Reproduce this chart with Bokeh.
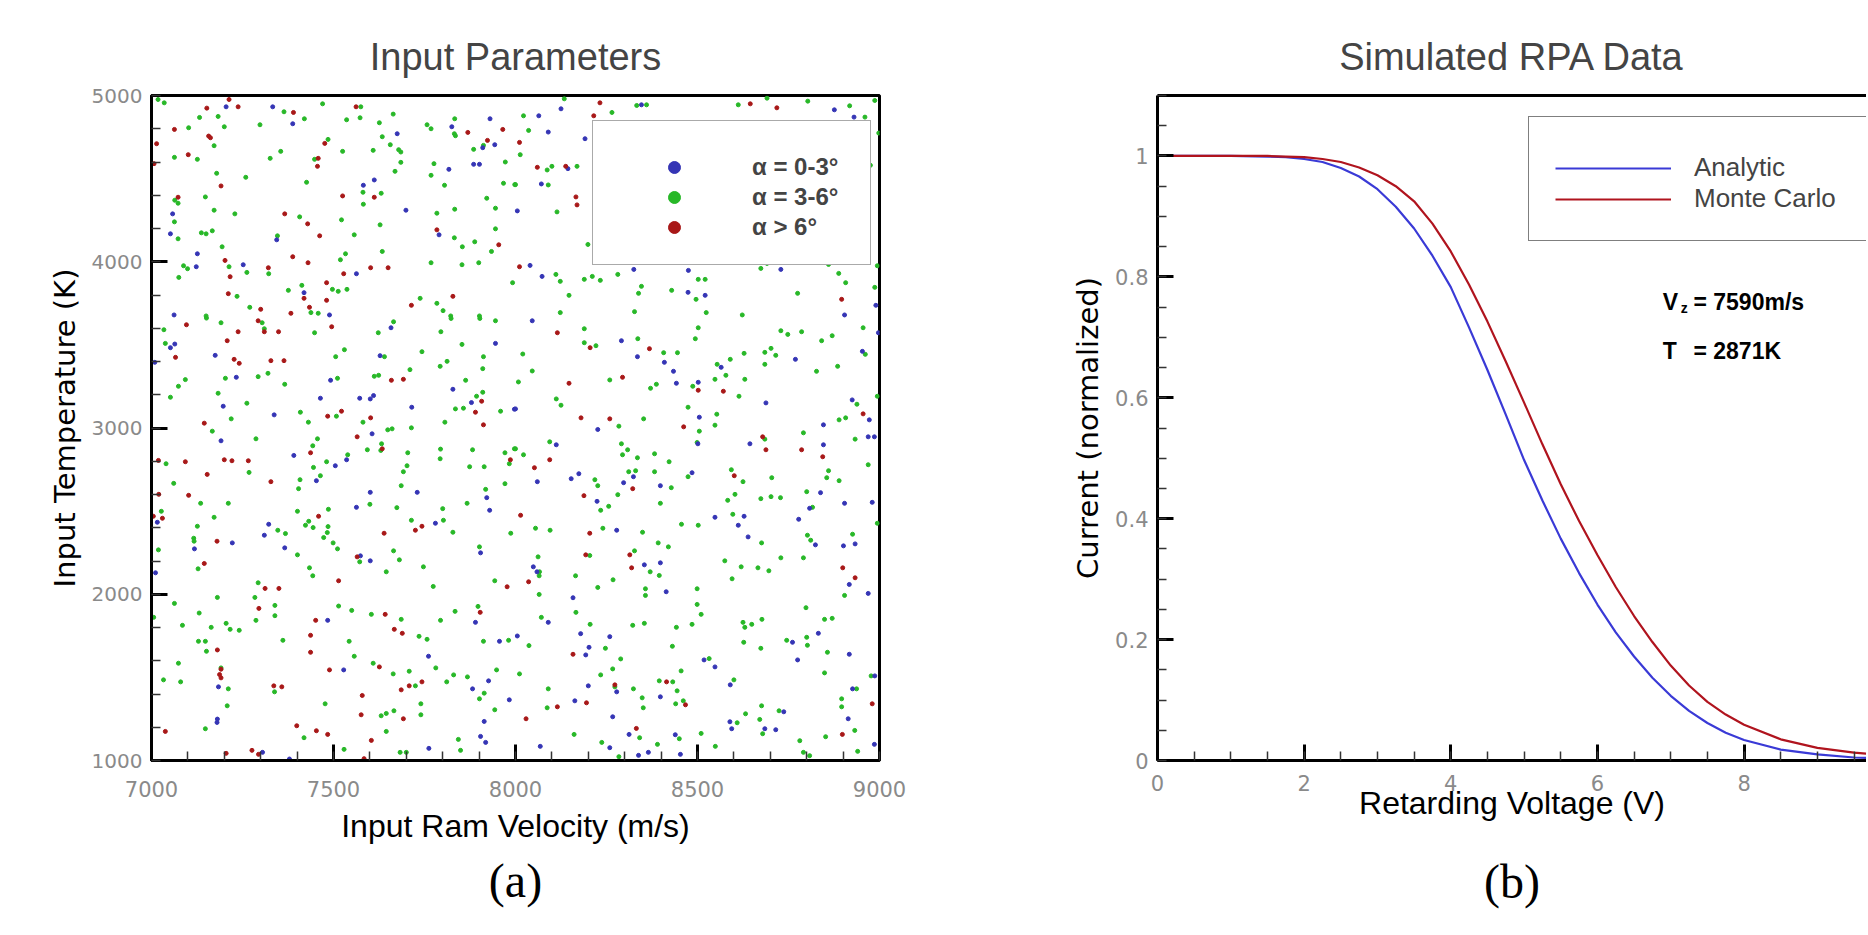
from bokeh.plotting import figure
from bokeh.models import (Range1d, FixedTicker, Legend, LegendItem, Label,
                          LinearAxis, CustomJSTickFormatter)
from bokeh.layouts import row
from bokeh.core.properties import value
from bokeh.embed import file_html
from bokeh.resources import INLINE

# ---------------- (a) Input parameters: scatter data ----------------
green_vel = [
    7018, 7035, 7132, 7183, 7200, 7102, 7298, 7364, 7420, 7470,
    7575, 7573, 7536, 7626, 7664, 7757, 7768, 7833, 7832, 7835,
    7634, 7656, 7679, 7685, 7685, 7669, 7609, 7525, 7485, 7448,
    7355, 7326, 7172, 7126, 7063, 7179, 7259, 7426, 7581, 7582,
    7631, 7768, 7776, 7805, 7885, 7912, 7972, 7967, 7998, 7921,
    7945, 7833, 7784, 7522, 7407, 7557, 7628, 7832, 7854, 7888,
    7945, 7934, 7899, 7853, 7768, 7634, 7533, 7519, 7537, 7513,
    7497, 7413, 7376, 7322, 7262, 7235, 7213, 7194, 7229, 7172,
    7167, 7150, 7137, 7148, 7064, 7073, 7063, 7073, 7088, 7099,
    7075, 7270, 7346, 7438, 7458, 7738, 7784, 7801, 7822, 7901,
    7992, 7150,
    8134, 8022, 8036, 8013, 8087, 8100, 8169, 8090, 8114, 8199,
    8265, 8333, 8360, 8612, 8691, 8803, 8918, 8960, 8987, 8998,
    8975, 8111, 8123, 8189, 8211, 8233, 8281, 8147, 8346, 8338,
    8429, 8496, 8502, 8521, 8524, 8674, 8691, 8775, 8860, 8888,
    8907, 8987, 8994, 8123, 8327, 8623, 8000,
    7151, 7191, 7304, 7310, 7034, 7038, 7093, 7074, 7052, 7203,
    7183, 7262, 7219, 7167, 7293, 7320, 7366, 7287, 7448, 7506,
    7530, 7511, 7409, 7431, 7508, 7581, 7612, 7624, 7640, 7623,
    7665, 7743, 7710, 7793, 7812, 7795, 7823, 7853, 7863, 7902,
    7945, 7912, 7910, 7910, 7893, 7835, 7857, 7806, 7959, 7714,
    7649, 7661, 7632, 7630, 7593, 7539, 7456, 7443, 7445, 7481,
    7464, 7408, 7404, 7401, 7432, 7423, 7444, 7485, 7486, 7483,
    7473, 7600, 7674, 7686, 7692, 7702, 7704, 7793, 7794, 7882,
    7914, 7874, 7971, 7997, 7983, 7971, 7918, 7867, 7802, 7800,
    7828, 7987, 7714, 7040, 7061, 7027, 7135, 7211, 7172, 7126,
    7268, 7347, 7368, 7116,
    8189, 8189, 8221, 8020, 8046, 8008, 8112, 8125, 8259, 8336,
    8407, 8445, 8387, 8371, 8502, 8494, 8284, 8352, 8094, 8022,
    8291, 8308, 8294, 8335, 8382, 8422, 8382, 8311, 8330, 8218,
    8226, 8281, 8234, 8256, 8398, 8428, 8474, 8487, 8474, 8505,
    8499, 8548, 8554, 8578, 8590, 8628, 8630, 8614, 8553, 8548,
    8685, 8702, 8715, 8685, 8729, 8748, 8786, 8841, 8870, 8885,
    8827, 8955, 8961, 8994, 8938, 8907, 8889, 8933, 8791, 8685,
    8860, 8855, 8889, 8969, 8800, 8816, 8704, 8702, 8728, 8674,
    8625, 8593, 8603, 8583, 8597, 8502, 8456, 8349, 8240, 8095,
    8055, 8802, 8926, 8994, 8000,
    7117, 7019, 7128, 7499, 7511, 7401, 7434, 7443, 7572, 7665,
    7681, 7645, 7747, 7774, 7901, 7943, 7293, 7284, 7287, 7339,
    7339, 7181, 7063, 7131, 7085, 7164, 7205, 7216, 7241, 7129,
    7148, 7151, 7361, 7514, 7550, 7604, 7686, 7794, 7834, 7897,
    7912, 7981, 7543, 7557, 7609, 7664, 7708, 7725, 7781, 7735,
    7757, 7811, 7830, 7868, 7948, 7914, 7901, 7943, 7843, 7849,
    7740, 7740, 7666, 7645, 7631, 7645, 7683, 7700, 7477, 7529,
    7419, 7338, 7211, 7208, 7148, 7074, 7033, 7080, 7006, 7191,
    8062, 8066, 8065, 8065, 8204, 8327, 8392, 8420, 8165, 8268,
    8226, 8357, 8357, 8370, 8395, 8499, 8499, 8510, 8485, 8442,
    8354, 8322, 8205, 8166, 8071, 8037, 8247, 8289, 8267, 8234,
    8431, 8455, 8432, 8444, 8395, 8348, 8351, 8324, 8273, 8090,
    8087, 8011, 8161, 8237, 8284, 8341, 8390, 8450, 8461, 8440,
    8510, 8549, 8575, 8595, 8620, 8666, 8696, 8676, 8729, 8791,
    8811, 8798, 8800, 8802, 8849, 8870, 8904, 8677, 8625, 8630,
    8649, 8627, 8674, 8745, 8857, 8849, 8977, 8937, 8896, 8896,
    8676, 8671, 8632, 8609, 8724, 8600, 8781, 8791, 8852, 8932,
    8940, 8532, 8679, 8808,
]
green_temp = [
    4976, 4956, 4868, 4874, 4812, 4806, 4824, 4902, 4860, 4950,
    4932, 4866, 4854, 4836, 4888, 4824, 4800, 4860, 4770, 4758,
    4752, 4704, 4674, 4660, 4598, 4544, 4670, 4664, 4736, 4616,
    4664, 4622, 4698, 4616, 4628, 4532, 4508, 4478, 4418, 4346,
    4412, 4520, 4590, 4460, 4676, 4700, 4600, 4472, 4464, 4382,
    4322, 4316, 4292, 4252, 4270, 4162, 4222, 4144, 4090, 4120,
    4198, 4062, 3994, 3982, 3994, 4062, 4048, 4012, 3834, 3822,
    3834, 3858, 3828, 3928, 3936, 3792, 3970, 4090, 4288, 4310,
    4186, 4168, 4174, 4390, 4370, 4352, 4240, 4138, 3976, 3958,
    3906, 3726, 4156, 3694, 3690, 3780, 3750, 3706, 3674, 3674,
    3874, 3674,
    4980, 4878, 4790, 4644, 4552, 4574, 4574, 4462, 4300, 4104,
    4898, 4940, 4944, 4944, 4984, 4966, 4938, 4870, 4970, 4774,
    4580, 3924, 3882, 3894, 3912, 3888, 3924, 3798, 3852, 3810,
    3828, 3774, 3894, 3894, 3694, 3960, 3990, 3810, 3984, 3930,
    3874, 3846, 3976, 3694, 3700, 3680, 4464,
    3661, 3633, 3633, 3597, 3591, 3509, 3291, 3251, 3185, 3299,
    3209, 3149, 3055, 2981, 3309, 3329, 3263, 2935, 3573, 3429,
    3471, 3299, 3095, 3035, 3071, 3035, 3311, 3317, 3429, 3573,
    3639, 3459, 3351, 3371, 3401, 3579, 3659, 3503, 3287, 3659,
    3645, 3429, 3357, 3215, 3191, 3115, 3119, 3035, 3101, 3001,
    2989, 2995, 2905, 2865, 2869, 2839, 2935, 2893, 2763, 2797,
    2713, 2689, 2635, 2499, 2439, 2415, 2401, 2407, 2511, 2371,
    2341, 2541, 2521, 2653, 2737, 2773, 2851, 2815, 2873, 2869,
    2767, 2767, 2851, 2875, 2785, 2665, 2631, 2547, 2445, 2515,
    2373, 2367, 2445, 2785, 2667, 2499, 2547, 2547, 2463, 2409,
    2733, 2385, 2365, 2337,
    3597, 3513, 3495, 3445, 3343, 3277, 3175, 3137, 3289, 3537,
    3453, 3453, 3263, 3239, 3603, 3537, 3011, 3055, 2917, 2839,
    2905, 2869, 2839, 2821, 2845, 2797, 2737, 2737, 2743, 2689,
    2653, 2599, 2505, 2529, 2547, 2641, 2707, 3251, 3125, 2981,
    2913, 3293, 3383, 3317, 3413, 3449, 3293, 3191, 3083, 3017,
    3455, 3479, 3437, 3383, 3585, 3563, 3579, 3525, 3555, 3371,
    3341, 3603, 3443, 3191, 3143, 3061, 3049, 2933, 2971, 2933,
    2743, 2701, 2683, 2779, 2617, 2523, 2701, 2587, 2581, 2575,
    2677, 2749, 2601, 2565, 2481, 2415, 2421, 2373, 2397, 2385,
    2397, 2355, 2361, 2427, 2875,
    2319, 2267, 2153, 2309, 2273, 2237, 2159, 2111, 2195, 2261,
    2207, 2135, 2165, 2047, 2285, 2081, 2069, 1981, 1843, 1933,
    1871, 1981, 1945, 1887, 1813, 1801, 1825, 1789, 1783, 1717,
    1717, 1657, 1723, 1929, 1903, 1879, 1849, 1843, 1897, 1927,
    1717, 1723, 1717, 1627, 1585, 1521, 1537, 1449, 1557, 1747,
    1729, 1473, 1515, 1503, 1545, 1405, 1371, 1305, 1127, 1061,
    1341, 1275, 1299, 1283, 1269, 1175, 1049, 1049, 1341, 1067,
    1137, 1413, 1431, 1329, 1191, 1585, 1485, 1473, 1861, 1557,
    2225, 2135, 2111, 1999, 2233, 2261, 2309, 2285, 2111, 2087,
    2041, 2033, 1993, 2135, 2113, 2033, 1939, 1879, 1819, 1801,
    1825, 1813, 1819, 1891, 1861, 1691, 1675, 1611, 1551, 1515,
    1687, 1539, 1473, 1419, 1479, 1377, 1317, 1431, 1443, 1431,
    1317, 1521, 1157, 1109, 1023, 1137, 1097, 1131, 1359, 1341,
    1163, 1085, 2201, 2093, 2165, 2159, 2141, 2309, 2219, 2219,
    2325, 1919, 1741, 1693, 1849, 1855, 1993, 1849, 1831, 1801,
    1819, 1711, 1675, 1723, 1651, 1527, 1509, 1431, 1371, 1323,
    1329, 1247, 1281, 1227, 1299, 1485, 1119, 1049, 1143, 1181,
    1055, 1613, 1161, 1029,
]

blue_vel = [
    7205, 7333, 7388, 7675, 7825, 7930, 7943, 7910, 7885, 7901,
    7817, 7612, 7582, 7699, 7790, 7344, 7058, 7052, 7126, 7123,
    7252, 7563, 7419, 7062, 7489,
    8125, 8064, 8090, 8191, 8144, 8071, 8005, 8346, 8876, 8930,
    8040, 8073, 8325, 8475, 8474, 8521, 8729, 8990, 8904,
    7064, 7052, 7009, 7175, 7233, 7197, 7337, 7191, 7492, 7464,
    7572, 7601, 7610, 7658, 7628, 7606, 7715, 7828, 7879, 7945,
    7997, 7391, 7505, 7536, 7453, 7601, 7730, 7563, 7921, 7929,
    7780, 7322, 7310, 7016,
    8046, 8291, 8335, 8409, 8434, 8442, 8502, 8505, 8565, 8501,
    8688, 8769, 8953, 8925, 8972, 8846, 8969, 8986, 8846, 8644,
    8485, 8398, 8324, 8297, 8174, 8153, 8060, 8226, 8112, 8224,
    8278, 8548, 8612, 8628, 8639, 8778, 8808, 8838, 8904, 8980,
    8997, 8000,
    7118, 7222, 7366, 7574, 7601, 7011, 7484, 7528, 7761, 7890,
    7956, 7904, 7882, 7926, 7983, 7914, 7904, 7918, 7762, 7181,
    7180, 7184, 7305, 7379,
    8049, 8059, 8158, 8090, 8005, 8179, 8259, 8202, 8193, 8354,
    8398, 8414, 8518, 8548, 8590, 8278, 8200, 8163, 8398, 8267,
    8312, 8259, 8338, 8365, 8453, 8439, 8068, 8761, 8775, 8832,
    8917, 8969, 8917, 8824, 8901, 8933, 8987, 8926, 8914, 8737,
    8589, 8594, 8685, 8715, 8986,
]
blue_temp = [
    4932, 4932, 4830, 4770, 4812, 4860, 4704, 4686, 4586, 4586,
    4556, 4492, 4460, 4310, 4162, 4132, 4288, 4168, 4048, 3970,
    3982, 3928, 3814, 3680, 3680,
    4920, 4878, 4780, 4740, 4560, 4468, 4306, 4944, 4914, 4870,
    3978, 3912, 3954, 3948, 3816, 3798, 3954, 3738, 3680,
    3505, 3483, 3395, 3437, 3305, 3131, 3079, 2923, 3287, 3179,
    3179, 3175, 3195, 3603, 3435, 2965, 3125, 3233, 3153, 3509,
    3113, 2835, 2773, 2809, 2683, 2613, 2613, 2523, 2581, 2505,
    2427, 2421, 2355, 2433,
    3645, 3525, 3429, 3395, 3341, 3269, 3275, 3065, 3365, 2905,
    3151, 3413, 3461, 3169, 3049, 3019, 2947, 2947, 2899, 2905,
    2731, 2653, 2707, 2671, 2725, 2695, 2677, 2991, 2899, 2559,
    2385, 2463, 2415, 2469, 2345, 2451, 2517, 2611, 2547, 2553,
    3573, 3115,
    2273, 2309, 2279, 2231, 2201, 2129, 1843, 1545, 1627, 1831,
    1717, 2249, 1431, 1479, 1365, 1235, 1145, 1109, 1073, 1249,
    1229, 1443, 1049, 1009,
    2165, 2135, 1979, 1831, 1749, 1763, 1745, 1681, 1635, 2177,
    2189, 2015, 1605, 1563, 1455, 1413, 1449, 1359, 1383, 1263,
    1157, 1077, 1031, 1049, 1037, 1155, 1085, 1711, 1605, 1765,
    1639, 2005, 2059, 2297, 2291, 2303, 1509, 1431, 1251, 1293,
    1233, 1191, 1191, 1185, 1097,
]

red_vel = [
    7152, 7213, 7238, 7390, 7562, 7063, 7014, 7101, 7157, 7162,
    7476, 7458, 7456, 7191, 7073, 7525, 7612, 7366, 7429, 7462,
    7869, 7923, 7965, 7784, 7954, 7388, 7430, 7202, 7216, 7321,
    7528, 7602, 7650, 7481, 7419, 7481, 7434, 7383, 7300, 7211,
    7714, 7828, 7007,
    8232, 8215, 8011, 8060, 8138, 8166, 8169, 8011, 8645, 8718,
    8896,
    7096, 7238, 7208, 7293, 7310, 7349, 7066, 7227, 7241, 7328,
    7364, 7495, 7145, 7019, 7093, 7200, 7221, 7266, 7153, 7328,
    7102, 7020, 7030, 7005, 7437, 7484, 7522, 7602, 7565, 7634,
    7659, 7692, 7907, 7890, 7912, 7986, 7459, 7639, 7725, 7743,
    8115, 8205, 8368, 8294, 8147, 8180, 8259, 8094, 8052, 8188,
    8322, 8014, 8204, 8502, 8571, 8462, 8679, 8688, 8786, 8844,
    8955, 8601,
    7180, 7145, 7312, 7350, 7295, 7451, 7437, 7437, 7514, 7565,
    7642, 7667, 7689, 7181, 7191, 7187, 7191, 7489, 7626, 7336,
    7358, 7579, 7576, 7686, 7708, 7743, 7692, 7399, 7453, 7484,
    7604, 7038, 7205, 7276, 7294, 7584, 7903, 7977,
    8193, 8314, 8319, 8036, 8158, 8273, 8415, 8467, 8195, 8115,
    8029, 8332, 8899, 8933, 8980, 8898,
]
red_temp = [
    4924, 4976, 4932, 4898, 4932, 4796, 4710, 4644, 4756, 4746,
    4712, 4622, 4574, 4456, 4388, 4396, 4388, 4288, 4228, 4156,
    4778, 4730, 4796, 4192, 4102, 4030, 3994, 4008, 3910, 3964,
    3928, 3964, 3964, 3874, 3780, 3768, 3726, 3690, 3714, 3808,
    3738, 3792, 4590,
    4956, 4878, 4718, 4568, 4574, 4390, 4342, 3970, 4950, 4926,
    3774,
    3621, 3579, 3525, 3645, 3579, 3579, 3425, 3413, 3389, 3405,
    3405, 3609, 3029, 2805, 2797, 2809, 2803, 2803, 2721, 2677,
    2595, 2601, 2457, 2469, 2851, 3071, 3101, 3061, 2947, 2875,
    3287, 3293, 3161, 3095, 3019, 2809, 2469, 2367, 2385, 2409,
    3573, 3483, 3477, 3305, 3269, 3061, 3055, 2809, 2761, 2593,
    2635, 2475, 2367, 3227, 3221, 3007, 2947, 2869, 2869, 2827,
    3085, 2713,
    2319, 2185, 2035, 2035, 1915, 1843, 1753, 1651, 2081, 2225,
    1879, 1789, 1765, 1665, 1549, 1517, 1497, 1545, 1563, 1449,
    1443, 1391, 1275, 1425, 1449, 1473, 1251, 1209, 1179, 1157,
    1121, 1175, 1043, 1061, 1037, 1011, 1891, 2045,
    2237, 2237, 2159, 2075, 1639, 1455, 1473, 1335, 1347, 1323,
    1251, 1193, 2159, 2099, 1341, 1157,
]

alpha_labels = ["α = 0-3°", "α = 3-6°", "α > 6°"]

# ---------------- (b) Simulated RPA data ----------------
volt = [0, 0.5, 1, 1.5, 1.75, 2, 2.25, 2.5, 2.75, 3, 3.25, 3.5, 3.75, 4, 4.25, 4.5,
        4.75, 5, 5.25, 5.5, 5.75, 6, 6.25, 6.5, 6.75, 7, 7.25, 7.5, 7.75, 8, 8.5,
        9, 9.5, 10]
analytic = [1.0, 1.0, 1.0, 0.999, 0.998, 0.995, 0.99, 0.98, 0.966, 0.945, 0.916, 0.88,
            0.835, 0.783, 0.716, 0.646, 0.572, 0.497, 0.43, 0.367, 0.31, 0.258, 0.212,
            0.172, 0.137, 0.107, 0.082, 0.062, 0.046, 0.034, 0.018, 0.01, 0.005, 0.003]
monte_carlo = [1.0, 1.0, 1.0, 1.0, 0.999, 0.998, 0.995, 0.99, 0.981, 0.968, 0.95, 0.925,
               0.888, 0.842, 0.787, 0.726, 0.66, 0.592, 0.523, 0.457, 0.396, 0.34, 0.287,
               0.239, 0.196, 0.157, 0.124, 0.097, 0.076, 0.059, 0.035, 0.021, 0.013, 0.008]
line_labels = ["Analytic", "Monte Carlo"]
panel_captions = ["(a)", "(b)"]

BLUE_PT, GREEN_PT, RED_PT = "#3535b5", "#28b828", "#a81818"
BLUE_LN, RED_LN = "#3a3ad6", "#b0141e"


def pairs(a, b):
    n = min(len(a), len(b))
    return a[:n], b[:n]


def style_axis(ax, tick_standoff, tick_size):
    ax.axis_line_color = "black"
    ax.axis_line_width = 3
    ax.major_tick_line_color = "black"
    ax.major_tick_line_width = 3
    ax.major_tick_in = 16
    ax.major_tick_out = 0
    ax.minor_tick_line_color = "#333333"
    ax.minor_tick_line_width = 1.5
    ax.minor_tick_in = 9
    ax.minor_tick_out = 0
    ax.major_label_text_font = "DejaVu Sans"
    ax.major_label_text_font_size = tick_size
    ax.major_label_text_color = "#8a8a8a"
    ax.major_label_standoff = tick_standoff
    ax.axis_label_text_font_style = "normal"
    ax.axis_label_text_color = "black"


def base_figure(title, width, x_range, y_range, left, right, xtick_standoff, xlabel_standoff,
                ytick_size):
    p = figure(width=width, height=932, x_range=x_range, y_range=y_range,
               output_backend="svg", toolbar_location=None, tools="",
               min_border_left=left, min_border_right=right,
               min_border_top=95, min_border_bottom=172)
    p.title.text = title
    p.title.align = "center"
    p.title.text_font = "Liberation Sans"
    p.title.text_font_size = "38px"
    p.title.text_font_style = "normal"
    p.title.standoff = 35
    p.xgrid.visible = False
    p.ygrid.visible = False
    p.background_fill_color = "white"
    p.border_fill_color = "white"
    style_axis(p.xaxis[0], xtick_standoff, "21px")
    style_axis(p.yaxis[0], 9, ytick_size)
    p.xaxis.axis_label_text_font = "Liberation Sans"
    p.xaxis.axis_label_text_font_size = "32px"
    p.xaxis.axis_label_standoff = xlabel_standoff
    p.yaxis.axis_label_text_font = "DejaVu Sans"
    p.yaxis.axis_label_text_font_size = "29px"
    p.yaxis.axis_label_standoff = 7
    return p


def add_caption(p, text, standoff):
    cap = LinearAxis(ticker=FixedTicker(ticks=[]), axis_line_color=None,
                     major_label_text_font_size="0px",
                     major_tick_in=0, major_tick_out=0, minor_tick_in=0, minor_tick_out=0,
                     axis_label=text, axis_label_standoff=standoff,
                     axis_label_text_font="Liberation Serif",
                     axis_label_text_font_size="48px",
                     axis_label_text_font_style="normal",
                     axis_label_text_color="black")
    p.add_layout(cap, "below")


# ---------- left panel ----------
p1 = base_figure("Input Parameters", 1000, Range1d(7000, 9000), Range1d(1000, 5000),
                 151, 121, 20, 8, "20px")
p1.outline_line_color = "black"
p1.outline_line_width = 3
p1.outline_line_alpha = 1.0
p1.xaxis.axis_label = "Input Ram Velocity (m/s)"
p1.yaxis.axis_label = "Input Temperature (K)"
p1.xaxis.ticker = FixedTicker(ticks=[7000, 7500, 8000, 8500, 9000],
                              minor_ticks=list(range(7000, 9001, 100)))
p1.yaxis.ticker = FixedTicker(ticks=[1000, 2000, 3000, 4000, 5000],
                              minor_ticks=list(range(1000, 5001, 200)))

gx, gy = pairs(green_vel, green_temp)
bx, by = pairs(blue_vel, blue_temp)
rx, ry = pairs(red_vel, red_temp)
r_green = p1.scatter(gx, gy, marker="circle", size=4, fill_color=GREEN_PT, line_color=GREEN_PT)
r_blue = p1.scatter(bx, by, marker="circle", size=4, fill_color=BLUE_PT, line_color=BLUE_PT)
r_red = p1.scatter(rx, ry, marker="circle", size=4, fill_color=RED_PT, line_color=RED_PT)

leg1 = Legend(items=[LegendItem(label=value(alpha_labels[0]), renderers=[r_blue]),
                     LegendItem(label=value(alpha_labels[1]), renderers=[r_green]),
                     LegendItem(label=value(alpha_labels[2]), renderers=[r_red])],
              location=(441, 495), orientation="vertical", padding=22, spacing=0,
              title=" ", title_text_font_size="6px", title_standoff=3,
              glyph_width=118, glyph_height=30, label_height=30, label_width=96,
              label_standoff=19, label_text_font="Liberation Sans",
              label_text_font_style="bold", label_text_font_size="24px",
              border_line_color="#555555", border_line_width=1.5,
              background_fill_color="white", background_fill_alpha=1.0, margin=0)
p1.add_layout(leg1)
add_caption(p1, panel_captions[0], 7)

# ---------- right panel ----------
p2 = base_figure("Simulated RPA Data", 866, Range1d(0, 9.67), Range1d(0, 1.1),
                 157, 0, 14, -9, "21px")
p2.outline_line_color = None
p2.xaxis.axis_label = "Retarding Voltage (V)"
p2.yaxis.axis_label = "Current (normalized)"
p2.xaxis.ticker = FixedTicker(ticks=[0, 2, 4, 6, 8], minor_ticks=[i * 0.5 for i in range(0, 20)])
p2.yaxis.ticker = FixedTicker(ticks=[0, 0.2, 0.4, 0.6, 0.8, 1.0],
                              minor_ticks=[i * 0.05 for i in range(0, 23)])
p2.yaxis.formatter = CustomJSTickFormatter(code="return Number(tick.toFixed(2)).toString();")

top_axis = LinearAxis(ticker=FixedTicker(ticks=[]), major_label_text_font_size="0px",
                      axis_line_width=3, axis_line_color="black",
                      major_tick_in=0, major_tick_out=0, minor_tick_in=0, minor_tick_out=0)
p2.add_layout(top_axis, "above")

l_an = p2.line(volt, analytic, line_color=BLUE_LN, line_width=2.2)
l_mc = p2.line(volt, monte_carlo, line_color=RED_LN, line_width=2.2)

leg2 = Legend(items=[LegendItem(label=value(line_labels[0]), renderers=[l_an]),
                     LegendItem(label=value(line_labels[1]), renderers=[l_mc])],
              location=(371, 519), orientation="vertical", padding=26, spacing=0,
              title=" ", title_text_font_size="6px", title_standoff=3,
              glyph_width=116, glyph_height=30, label_height=30, label_width=150,
              label_standoff=23, label_text_font="Liberation Sans",
              label_text_font_style="normal", label_text_font_size="26px",
              border_line_color="black", border_line_width=1.5,
              background_fill_color="white", background_fill_alpha=1.0, margin=0)
p2.add_layout(leg2)

lab_kw = dict(text_font="Liberation Sans", text_font_style="bold", text_color="black",
              text_baseline="alphabetic", text_font_size="23px")
p2.add_layout(Label(x=6.89, y=0.759, text="V", **lab_kw))
p2.add_layout(Label(x=7.135, y=0.749, text="z", text_font="Liberation Sans",
                    text_font_style="bold", text_color="black",
                    text_baseline="alphabetic", text_font_size="14px"))
p2.add_layout(Label(x=7.31, y=0.759, text="= 7590m/s", **lab_kw))
p2.add_layout(Label(x=6.89, y=0.678, text="T", **lab_kw))
p2.add_layout(Label(x=7.31, y=0.678, text="= 2871K", **lab_kw))
add_caption(p2, panel_captions[1], 31)

layout = row(p1, p2)
open("out.html", "w").write(file_html(layout, INLINE))
